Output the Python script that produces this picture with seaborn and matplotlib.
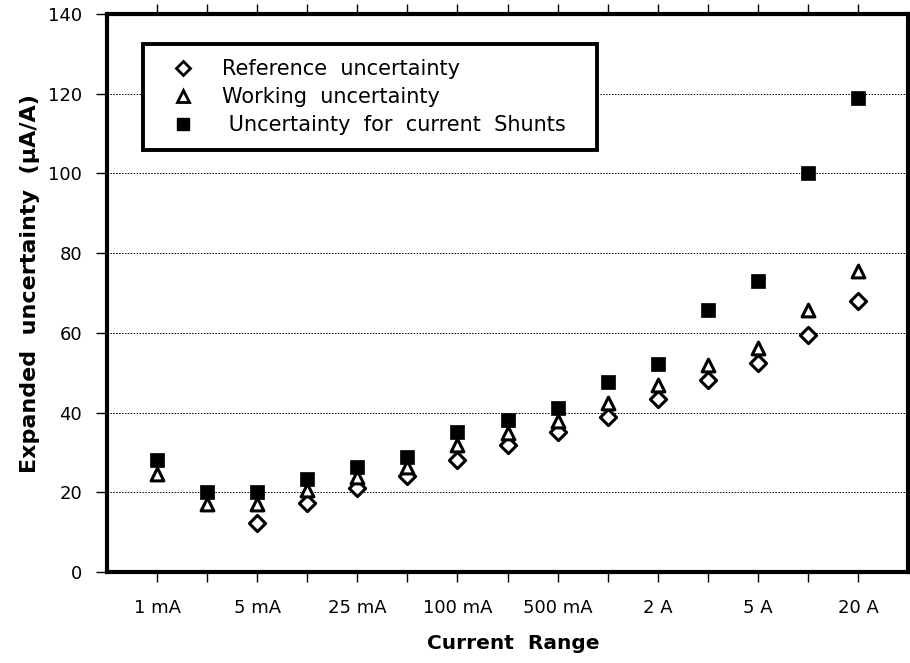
import matplotlib
matplotlib.use("Agg")
import matplotlib.pyplot as plt
import seaborn as sns
import numpy as np
import pandas as pd
from matplotlib.lines import Line2D

positions = list(range(15))
tick_labels = ["1 mA", "", "5 mA", "", "25 mA", "", "100 mA", "", "500 mA", "", "2 A", "", "5 A", "", "20 A"]

reference = [np.nan, np.nan, 12.2, 17.2, 21.0, 24.2, 28.1, 31.8, 35.2, 39.0, 43.3, 48.2, 52.4, 59.5, 68.1]
working = [24.6, 17.1, 17.1, 20.6, 23.8, 26.3, 31.9, 35.0, 38.0, 42.3, 46.9, 51.9, 56.1, 65.7, 75.6]
shunts = [28.1, 20.1, 20.0, 23.3, 26.3, 28.8, 35.2, 38.1, 41.1, 47.7, 52.2, 65.7, 73.1, 100.2, 119.0]

series_names = ["Reference  uncertainty", "Working  uncertainty", " Uncertainty  for  current  Shunts"]

sns.set_theme(style="white")
plt.rcParams['font.family'] = ['DejaVu Sans']
plt.rcParams.update({"text.color": "black", "axes.labelcolor": "black",
                     "xtick.color": "black", "ytick.color": "black"})

fig = plt.figure(figsize=(9.1, 6.63), dpi=100)
ax = fig.add_axes([107/910, 1 - 572/663, (908-107)/910, (572-14)/663])

df = pd.DataFrame({"pos": positions, "ref": reference, "work": working, "shunt": shunts})

sns.scatterplot(data=df, x="pos", y="ref", marker="D", s=68, facecolor="white",
                edgecolor="black", linewidth=2.2, ax=ax, zorder=3)
sns.scatterplot(data=df, x="pos", y="work", marker="^", s=85, facecolor="white",
                edgecolor="black", linewidth=2.2, ax=ax, zorder=3)
sns.scatterplot(data=df, x="pos", y="shunt", marker="s", s=110, color="black",
                edgecolor="black", linewidth=0.5, ax=ax, zorder=4)

ax.set_xlim(-1, 15)
ax.set_ylim(0, 140)
ax.set_xticks(positions)
ax.set_xticklabels(tick_labels, fontsize=13)
ax.set_yticks(range(0, 141, 20))
ax.set_yticklabels([str(v) for v in range(0, 141, 20)], fontsize=13)
ax.tick_params(axis="x", direction="out", length=7.5, width=1, top=True, bottom=True, pad=12)
ax.tick_params(axis="y", direction="out", length=8, width=1, left=True, pad=10)

for yv in range(20, 140, 20):
    ax.axhline(yv, color="black", linestyle=(0, (1.5, 1.5)), linewidth=0.7, zorder=1)

for sp in ax.spines.values():
    sp.set_linewidth(3)
    sp.set_color("black")

ax.set_xlabel("Current  Range", fontsize=14.5, fontweight="bold")
ax.xaxis.set_label_coords(0.507, -0.112)
ax.set_ylabel("Expanded  uncertainty  (\u03bcA/A)", fontsize=16, fontweight="bold")
ax.yaxis.set_label_coords(-0.084, 0.517)

handles = [
    Line2D([], [], linestyle="none", marker="D", markersize=7.5, markerfacecolor="white",
           markeredgecolor="black", markeredgewidth=2),
    Line2D([], [], linestyle="none", marker="^", markersize=8, markerfacecolor="white",
           markeredgecolor="black", markeredgewidth=2),
    Line2D([], [], linestyle="none", marker="s", markersize=8.5, markerfacecolor="black",
           markeredgecolor="black"),
]
x0 = (143 - 107) / 801
w = (597 - 143) / 801
y_top = 1 - (44 - 14) / 558
leg = ax.legend(handles, series_names, loc="upper left",
                bbox_to_anchor=(x0, y_top - 0.3, w, 0.3), mode="expand",
                fontsize=15, frameon=True, fancybox=False, framealpha=1, borderpad=0.72,
                labelspacing=0.38, handletextpad=0.67, borderaxespad=0, handlelength=2.4)
leg.get_frame().set_edgecolor("black")
leg.get_frame().set_linewidth(2.8)
leg.set_zorder(5)

fig.savefig("out.png", dpi=100)
